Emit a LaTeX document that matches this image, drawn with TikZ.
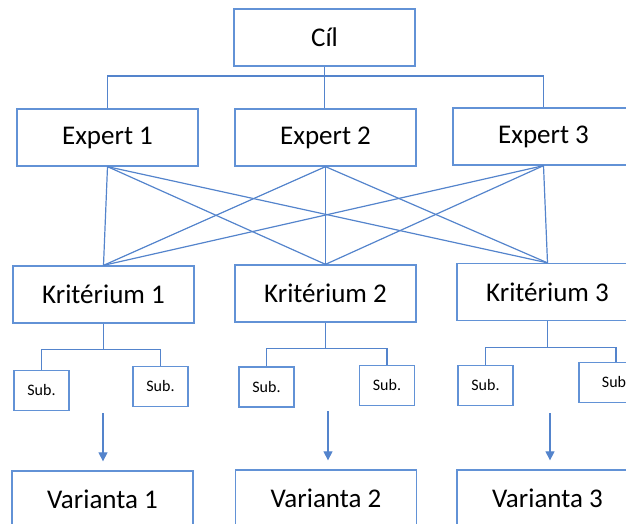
\documentclass[tikz,border=0pt]{standalone}
\usepackage{fontspec}
\setmainfont{Carlito}
\usetikzlibrary{arrows.meta}
\definecolor{boxblue}{RGB}{98,146,214}
\definecolor{lineblue}{RGB}{84,132,204}

\begin{document}
\begin{tikzpicture}[x=1pt,y=-1pt,
    box/.style={draw=boxblue,line width=1.3pt,minimum width=181pt,minimum height=57pt,inner sep=0pt,font=\fontsize{27}{32}\selectfont},
    subbox/.style={draw=boxblue,line width=1.3pt,minimum width=55pt,minimum height=40pt,inner sep=0pt,font=\fontsize{16}{19}\selectfont},
    link/.style={draw=lineblue,line width=1.2pt},
    arr/.style={link,-{Triangle[width=9pt,length=9pt]}}]
            \useasboundingbox (0,0) rectangle (626,524);
            \node (cil) at (324.5,37.5) [box] {Cíl};
            \node (ex1) at (107.5,137.5) [box] {Expert 1};
            \node (ex2) at (325.5,137.5) [box] {Expert 2};
            \node (ex3) at (543.5,136.5) [box] {Expert 3};
            \node (kr1) at (103.5,294.5) [box] {Kritérium 1};
            \node (kr2) at (325.5,293.5) [box] {Kritérium 2};
            \node (kr3) at (547.5,292) [box] {Kritérium 3};
            \node (s1a) at (41.5,390.5) [subbox] {Sub.};
            \node (s1b) at (160.5,386.5) [subbox] {Sub.};
            \node (s2a) at (266.5,387) [subbox] {Sub.};
            \node (s2b) at (387,385.5) [subbox] {Sub.};
            \node (s3a) at (485.5,385.5) [subbox] {Sub.};
            \node (s3b) at (616,382.5) [subbox,minimum width=74pt] {Sub.};
            \node (var1) at (102.5,499.5) [box] {Varianta 1};
            \node (var2) at (326,498.5) [box] {Varianta 2};
            \node (var3) at (547.5,498.5) [box] {Varianta 3};
            \coordinate (top) at (326,76);
            \draw[link] (cil.south) -- (cil.south |- ex2.north) (ex1.north) |- (top) -| (ex3.north);
            \foreach \e in {ex1,ex2,ex3}
                \foreach \k in {kr1,kr2,kr3}
                    \draw[link] (\e.south) -- (\k.north);
            \foreach \k/\a/\b in {kr1/s1a/s1b,kr2/s2a/s2b,kr3/s3a/s3b} {
                \draw[link] (\k.south) -- ++(0,26) coordinate (\k-b);
                \draw[link] (\a.north) |- (\k-b) -| (\b.north);
            }
            \coordinate (a1) at (103,413);
            \coordinate (a2) at (328,411);
            \coordinate (a3) at (550,413);
            \draw[arr,shorten >=9pt] (a1) -- (a1 |- var1.north);
            \draw[arr,shorten >=9pt] (a2) -- (a2 |- var2.north);
            \draw[arr,shorten >=9pt] (a3) -- (a3 |- var3.north);
        \end{tikzpicture}
\end{document}
